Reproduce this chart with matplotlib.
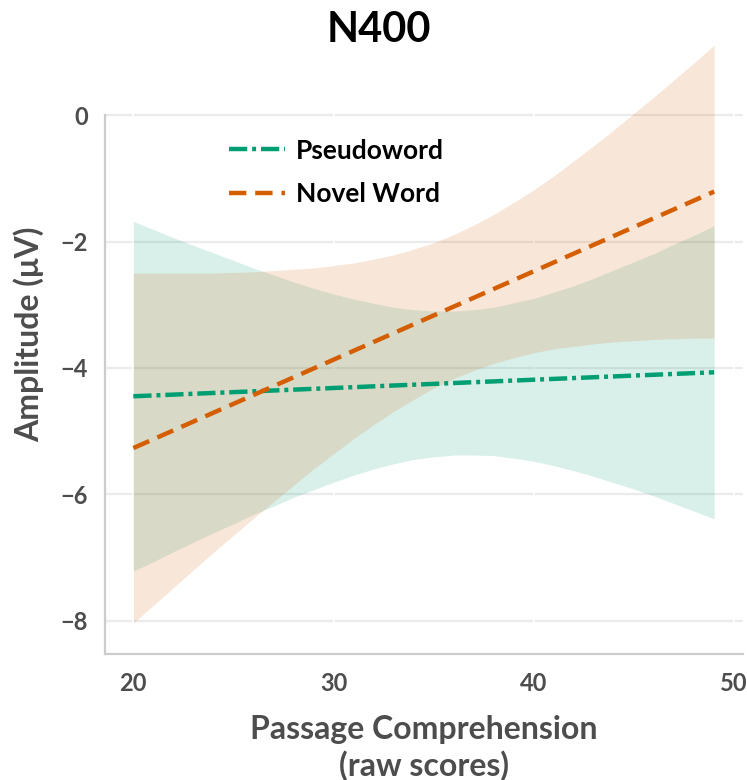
import numpy as np
import matplotlib.pyplot as plt

plt.rcParams['font.family'] = ['Lato', 'DejaVu Sans']

# fitted lines (endpoints)
line_x = [20, 49]
pseudo_fit = [-4.45, -4.07]
novel_fit = [-5.27, -1.21]

# confidence bands at each score
band_x = list(range(20, 50))
pseudo_hi = [-1.68, -1.81, -1.94, -2.06, -2.18, -2.30, -2.42, -2.53, -2.64, -2.74,
             -2.83, -2.91, -2.98, -3.04, -3.08, -3.10, -3.10, -3.08, -3.04, -2.97,
             -2.90, -2.80, -2.70, -2.58, -2.45, -2.32, -2.19, -2.04, -1.90, -1.75]
pseudo_lo = [-7.22, -7.07, -6.91, -6.76, -6.61, -6.47, -6.32, -6.19, -6.05, -5.93,
             -5.81, -5.70, -5.60, -5.52, -5.45, -5.41, -5.38, -5.38, -5.39, -5.43,
             -5.48, -5.55, -5.63, -5.72, -5.82, -5.92, -6.03, -6.15, -6.27, -6.39]
novel_hi = [-2.50, -2.50, -2.50, -2.50, -2.50, -2.49, -2.48, -2.46, -2.44, -2.42,
            -2.38, -2.34, -2.28, -2.21, -2.12, -2.02, -1.89, -1.74, -1.57, -1.38,
            -1.18, -0.96, -0.72, -0.48, -0.23, 0.03, 0.29, 0.56, 0.83, 1.11]
novel_lo = [-8.04, -7.76, -7.48, -7.20, -6.92, -6.65, -6.38, -6.12, -5.86, -5.60,
            -5.36, -5.12, -4.90, -4.69, -4.50, -4.32, -4.17, -4.04, -3.93, -3.84,
            -3.76, -3.70, -3.66, -3.62, -3.59, -3.57, -3.55, -3.54, -3.53, -3.53]

xticks = [20, 30, 40, 50]
yticks = [-8, -6, -4, -2, 0]
ytick_labels = ['\u22128', '\u22126', '\u22124', '\u22122', '0']

green = '#009E73'
orange = '#D55E00'

fig = plt.figure(figsize=(7.47, 7.8), dpi=100)
ax = fig.add_axes([104.7 / 747, 126 / 780, 638.3 / 747, 614 / 780])

ylo, yhi = -8.53, 1.19
ax.set_xlim(18.57, 50.44)
ax.set_ylim(ylo, yhi)

# grid: grey horizontals, interrupted by thin white verticals
ax.set_axisbelow(True)
ax.yaxis.grid(True, color='#ebebeb', lw=1.6)
for xt in xticks:
    ax.axvline(xt, color='white', lw=1.2, zorder=0.7)

ax.fill_between(band_x, pseudo_lo, pseudo_hi, color=green, alpha=0.15,
                lw=0, zorder=1)
ax.fill_between(band_x, novel_lo, novel_hi, color=orange, alpha=0.15,
                lw=0, zorder=1)

ax.plot(line_x, pseudo_fit, color=green, lw=3.2, dashes=(4.1, 1.1, 0.9, 1.1),
        label='Pseudoword', zorder=3)
ax.plot(line_x, novel_fit, color=orange, lw=3.2, dashes=(3.9, 2.0),
        label='Novel Word', zorder=3)

ax.set_xticks(xticks)
ax.set_yticks(yticks)
ax.set_yticklabels(ytick_labels)
ax.tick_params(length=0, labelsize=17, labelcolor='#4d4d4d')
ax.tick_params(axis='y', pad=12)
ax.tick_params(axis='x', pad=13)
for lab in ax.get_xticklabels() + ax.get_yticklabels():
    lab.set_fontweight('bold')

for s in ['top', 'right']:
    ax.spines[s].set_visible(False)
for s in ['left', 'bottom']:
    ax.spines[s].set_color('#cccccc')
    ax.spines[s].set_linewidth(1.6)
ax.spines['left'].set_bounds(ylo, 0)

ax.set_xlabel('Passage Comprehension\n(raw scores)', fontsize=23,
              fontweight='bold', color='#4d4d4d', labelpad=14, linespacing=1.25)
ax.set_ylabel('Amplitude (\u03bcV)', fontsize=23, fontweight='bold',
              color='#4d4d4d')
ax.yaxis.set_label_coords(-0.095, 0.52)

fig.text(0.507, 0.962, 'N400', ha='center', va='center', fontsize=30,
         fontweight='bold', color='black')

leg = ax.legend(loc='upper left', bbox_to_anchor=(0.157, 0.878), frameon=False,
                fontsize=19, handlelength=2.15, handletextpad=0.4,
                labelspacing=0.75)
for t in leg.get_texts():
    t.set_fontweight('bold')

fig.savefig('out.png', dpi=100)
